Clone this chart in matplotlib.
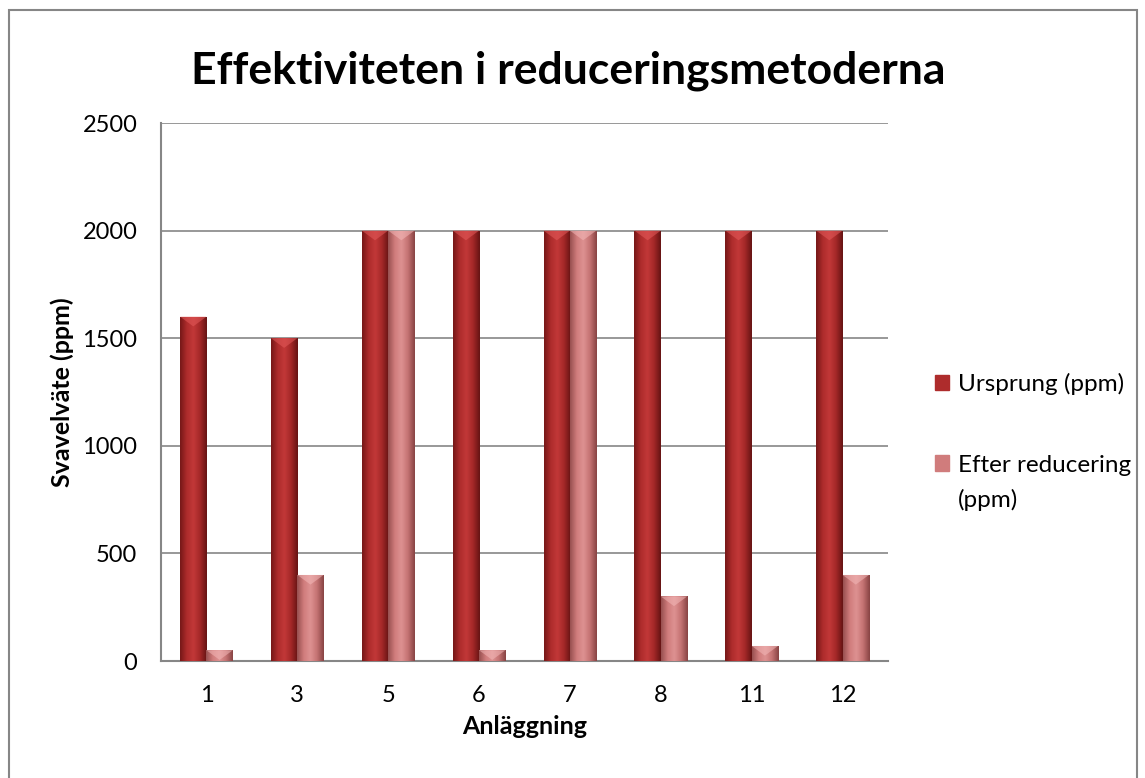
import matplotlib
matplotlib.use("Agg")
import matplotlib.pyplot as plt
import numpy as np
from matplotlib.colors import LinearSegmentedColormap
from matplotlib.patches import Rectangle, Polygon

plt.rcParams['font.family'] = ['Lato', 'DejaVu Sans']

# anläggningar och halter svavelväte
anlaggning = ['1', '3', '5', '6', '7', '8', '11', '12']
ursprung = [1600, 1500, 2000, 2000, 2000, 2000, 2000, 2000]
efter = [50, 400, 2000, 50, 2000, 300, 70, 400]

serier = ['Ursprung (ppm)', 'Efter reducering']
farger = [['#761818', '#ae2c2c', '#c23838', '#a42828', '#661414'],
          ['#985050', '#d07c7c', '#de9292', '#c47272', '#884444']]
topp = ['#e45a5a', '#f3b8b8']

fig = plt.figure(figsize=(11.45, 7.78), dpi=100)
ax = fig.add_axes([161 / 1145, 1 - 661 / 778, 727 / 1145, 538 / 778])

x = np.arange(len(anlaggning))
w = 0.29


def rita_stapel(ax, xs, vals, cols, topcol, label):
    bars = ax.bar(xs, vals, w, color=cols[1], label=label, zorder=3, linewidth=0)
    cmap = LinearSegmentedColormap.from_list('g', cols)
    grad = np.linspace(0, 1, 64).reshape(1, -1)
    for b in bars:
        x0, h = b.get_x(), b.get_height()
        im = ax.imshow(grad, cmap=cmap, aspect='auto', zorder=3,
                       extent=[x0, x0 + w, 0, h], interpolation='bicubic')
        im.set_clip_path(b)
        # fasad topp
        d = min(45, h)
        ax.add_patch(Polygon([[x0, h], [x0 + w, h], [x0 + w * 0.5, h - d]],
                             closed=True, color=topcol, alpha=0.55, lw=0, zorder=4))
    return bars


b1 = rita_stapel(ax, x - w / 2, ursprung, farger[0], topp[0], serier[0])
b2 = rita_stapel(ax, x + w / 2, efter, farger[1], topp[1], serier[1])

ax.set_xlim(-0.5, len(anlaggning) - 0.5)
ax.set_ylim(0, 2500)
ax.set_yticks(np.arange(0, 2501, 500))
ax.set_xticks(x)
ax.set_xticklabels(anlaggning)
ax.grid(axis='y', color='#868686', lw=1.2, zorder=0)
for s in ['top', 'right']:
    ax.spines[s].set_visible(False)
for s in ['left', 'bottom']:
    ax.spines[s].set_color('#868686')
    ax.spines[s].set_linewidth(1.5)
ax.tick_params(axis='both', labelsize=17, color='#868686', length=0, pad=17)
ax.set_ylabel('Svavelväte (ppm)', fontsize=18, fontweight='bold', labelpad=6)
ax.set_xlabel('Anläggning', fontsize=18, fontweight='bold', labelpad=7)
fig.text(568 / 1145, 1 - 71 / 778, 'Effektiviteten i reduceringsmetoderna',
         fontsize=32, fontweight='bold', ha='center', va='center')

handles = [Rectangle((0, 0), 1, 1, color=farger[0][1]),
           Rectangle((0, 0), 1, 1, color=farger[1][1])]
leg = fig.legend(handles, serier, loc='upper left',
                 bbox_to_anchor=(913 / 1145, 1 - 351 / 778),
                 frameon=False, fontsize=17.5, handlelength=0.6, handleheight=0.6,
                 handletextpad=0.35, labelspacing=2.45)
# andra raden av etiketten
fig.draw_without_rendering()
ax.annotate('(ppm)', xy=(0, 0), xycoords=leg.get_texts()[1],
            xytext=(0, -35), textcoords='offset pixels',
            fontsize=17.5, ha='left', va='bottom', annotation_clip=False)

# ram runt diagrammet
fig.patches.append(Rectangle((9 / 1145, -0.01), 1128 / 1145, 1 - 10 / 778 + 0.01,
                             transform=fig.transFigure, fill=False,
                             edgecolor='#868686', lw=1.5))

fig.savefig('out.png', dpi=100)
